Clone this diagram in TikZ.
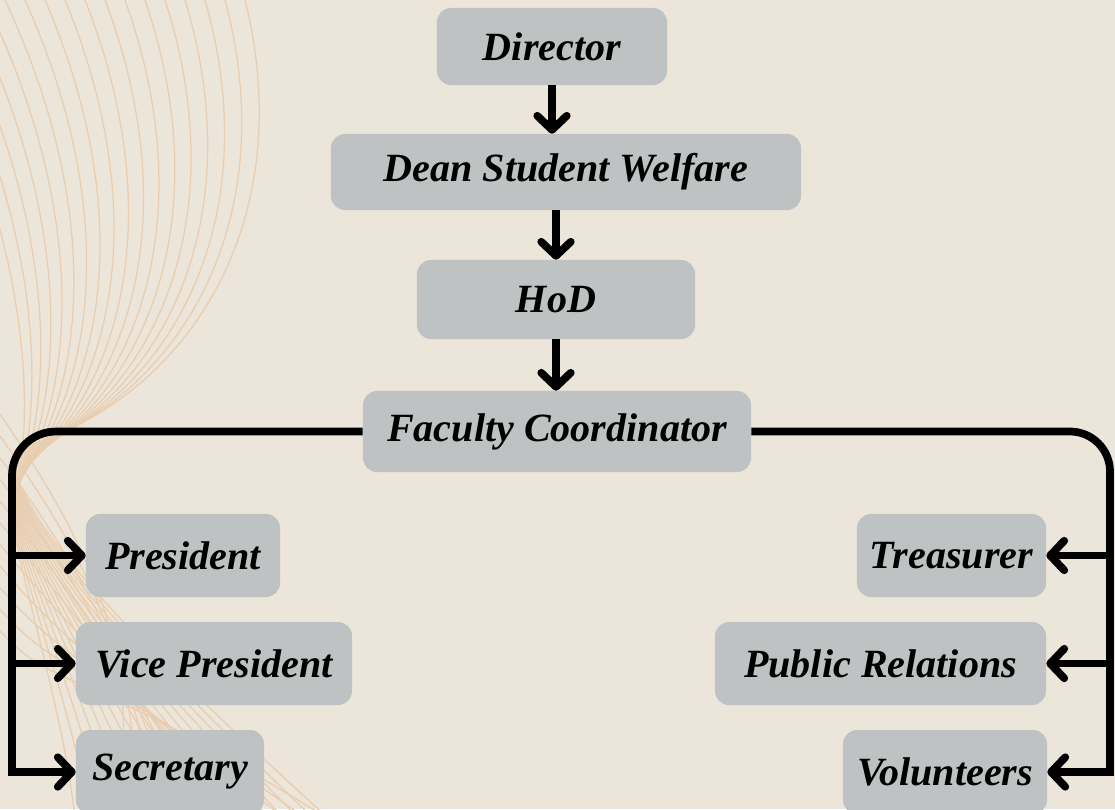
\documentclass[tikz,border=0pt]{standalone}
\usepackage{fontspec}
\setmainfont{Liberation Serif}
\usetikzlibrary{arrows.meta}
\definecolor{bgcolor}{HTML}{ECE5DA}
\definecolor{boxcolor}{HTML}{BFC2C2}
\definecolor{wavecolor}{HTML}{E9CDAF}

\tikzset{
	box/.style={fill=boxcolor, rounded corners=10pt, inner sep=0pt, font=\bfseries\itshape\fontsize{28.5}{32}\selectfont},
	conn/.style={line width=5.5pt},
	arr/.style={conn, -{Straight Barb[length=10pt,width=21pt,round]}},
	wave/.style={wavecolor, line width=0.9pt},
}

\begin{document}
\begin{tikzpicture}[x=0.025cm, y=-0.025cm]
		\fill[bgcolor] (0,0) rectangle (1115,809);
		\useasboundingbox (0,0) rectangle (1115,809);
		\foreach \k in {0,...,17}
			\draw[wave] ({245-20*\k},0) .. controls ({300-16*\k},220) and ({190-9*\k},400) .. (15,{450+3*\k})
				.. controls (0,520) and ({200-8*\k},700) .. ({330-15*\k},820);
		\foreach \k in {0,...,10}
			\draw[wave] (-10,{400+22*\k}) .. controls (60,{500+20*\k}) and ({160-10*\k},650) .. ({110+22*\k},820);
		\foreach \name/\x/\y/\w/\h/\label in {%
			director/552/46.5/5.75/1.925/Director,
			dean/566/172/11.75/1.9/Dean Student Welfare,
			hod/556/299.5/6.95/1.975/HoD,
			fac/557/431.5/9.7/2.025/Faculty Coordinator,
			pres/183/555.5/4.85/2.075/President,
			vp/214/663.5/6.9/2.075/Vice President,
			sec/170/772/4.7/2.1/Secretary,
			tre/951.5/555.5/4.725/2.075/Treasurer,
			pr/880.5/663.5/8.275/2.075/Public Relations,
			vol/945/772/5.1/2.1/Volunteers}%
		{
			\node[box, minimum width=\w cm, minimum height=\h cm] (\name) at (\x,\y) {\label};
		};
		\draw[arr] (director.south) -- (director.south |- dean.north);
		\draw[arr] (dean.south -| hod.north) -- (hod.north);
		\draw[arr] (hod.south) -- (hod.south |- fac.north);
		\coordinate (lx) at (12,0);
		\coordinate (rx) at (1110,0);
		\draw[conn, rounded corners=1.1cm] (fac.west) -| ([yshift=-2.75pt]lx |- sec.west);
		\draw[conn, rounded corners=1cm] (fac.east) -| ([yshift=-2.75pt]rx |- vol.east);
		\foreach \n in {pres, vp, sec}
			\draw[arr] (\n.west -| lx) -- (\n.west);
		\foreach \n in {tre, pr, vol}
			\draw[arr] (\n.east -| rx) -- (\n.east);
	\end{tikzpicture}
\end{document}
